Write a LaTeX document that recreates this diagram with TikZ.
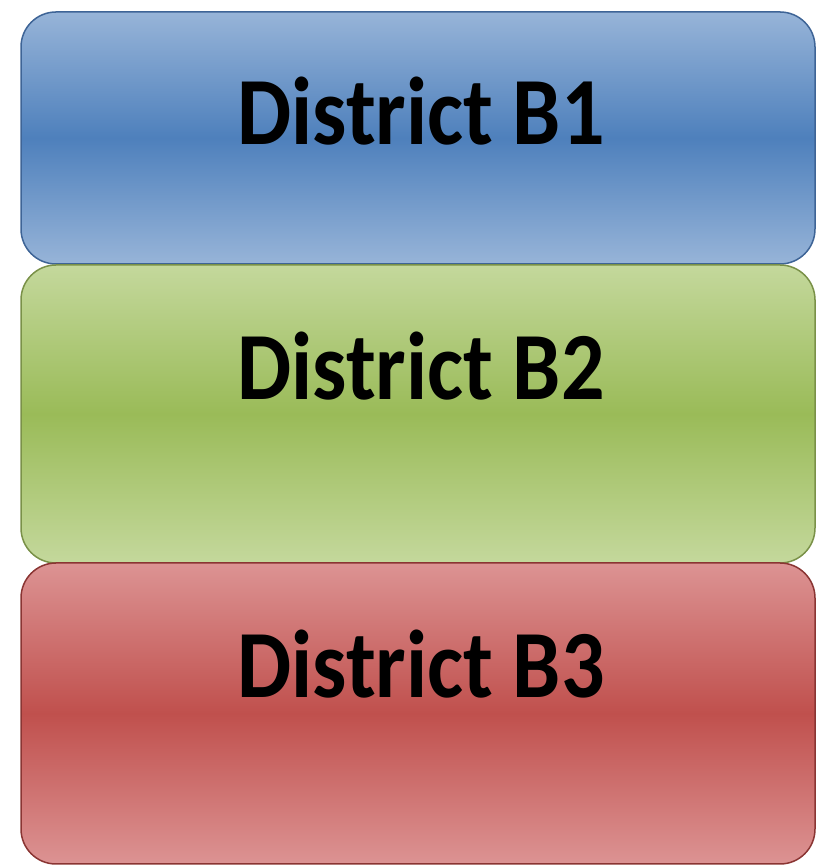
\documentclass[tikz,border=0pt]{standalone}
\usepackage{fontspec}
\setmainfont{Carlito}
\definecolor{bluelight}{HTML}{97B4D8}
\definecolor{bluedark}{HTML}{4E80BC}
\definecolor{blueline}{HTML}{3E6496}
\definecolor{greenlight}{HTML}{C4D89C}
\definecolor{greendark}{HTML}{9ABB58}
\definecolor{greenline}{HTML}{7A9148}
\definecolor{redlight}{HTML}{DC9393}
\definecolor{reddark}{HTML}{C0504D}
\definecolor{redline}{HTML}{8A3533}
\tikzset{
  district/.style 2 args={draw=#2, line width=1.5pt, rounded corners=35pt,
    top color=#1light, bottom color=#1light, middle color=#1dark,
    minimum width=794pt, inner sep=0pt},
  districtlabel/.style={anchor=base, inner sep=0pt, font=\bfseries\fontsize{86}{90}\selectfont}
}
\begin{document}
\begin{tikzpicture}[x=1pt,y=1pt]
\useasboundingbox (0,0) rectangle (819,867);
% the three boxes, top to bottom
\node [district={blue}{blueline}, minimum height=252pt] (b1) at (418,729) {};
\node [district={green}{greenline}, minimum height=298pt] (b2) at (418,453) {};
\node [district={red}{redline}, minimum height=301pt] (b3) at (418,153.5) {};
% labels
\node [districtlabel] (l1) at ([xshift=3pt,yshift=-7pt]b1.center) {\scalebox{1}[1.12]{District B1}};
\node [districtlabel] (l2) at ([xshift=3pt,yshift=14pt]b2.center) {\scalebox{1}[1.12]{District B2}};
\node [districtlabel] (l3) at ([xshift=3pt,yshift=15.5pt]b3.center) {\scalebox{1}[1.12]{District B3}};
\end{tikzpicture}
\end{document}
